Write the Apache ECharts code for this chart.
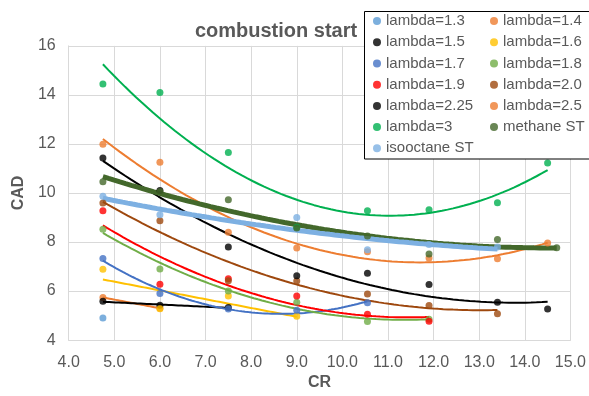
<!DOCTYPE html>
<html><head><meta charset="utf-8">
<script src="https://cdn.jsdelivr.net/npm/echarts@6/dist/echarts.min.js"></script>
<style>html,body{margin:0;padding:0;background:#fff}#c{width:589px;height:396px}</style>
</head><body><div id="c"></div>
<script>
// ---- data ----
const CR = [4.75, 6.0, 7.5, 9.0, 10.55, 11.9, 13.4, 14.5];
const CR_METHANE = [4.75, 6.0, 7.5, 9.0, 10.55, 11.9, 13.4, 14.7];
const lambda13 = [4.9, null, null, null, null, null, null, null];
const lambda14 = [5.74, 5.3, null, null, null, null, null, null];
const lambda15 = [5.58, 5.42, 5.33, null, null, null, null, null];
const lambda16 = [6.89, 5.28, 5.8, 4.97, null, null, null, null];
const lambda17 = [7.33, 5.9, 5.27, 5.22, 5.52, null, null, null];
const lambda18 = [8.52, 6.9, 6.0, 5.54, 4.76, 4.85, null, null];
const lambda19 = [9.28, 6.28, 6.5, 5.8, 5.05, 4.77, null, null];
const lambda20 = [9.59, 8.87, 6.42, 6.41, 5.88, 5.41, 5.07, null];
const lambda225 = [11.43, 10.1, 7.8, 6.62, 6.73, 6.27, 5.54, 5.27];
const lambda25 = [11.99, 11.25, 8.4, 7.76, 7.6, 7.35, 7.32, 7.96];
const lambda3 = [14.45, 14.1, 11.65, 8.6, 9.28, 9.32, 9.6, 11.22];
const methaneST = [10.46, 10.05, 9.72, 8.57, 8.25, 7.51, 8.1, 7.77];
const isooctaneST = [9.87, 9.11, null, 9.0, 7.69, 7.9, 7.8, null];

const seriesDefs = [
  {name:'lambda=1.3', x:CR, y:lambda13, color:'#5B9BD5', order:0, w:2},
  {name:'lambda=1.4', x:CR, y:lambda14, color:'#ED7D31', order:1, w:2},
  {name:'lambda=1.5', x:CR, y:lambda15, color:'#000000', order:1, w:2},
  {name:'lambda=1.6', x:CR, y:lambda16, color:'#FFC000', order:1, w:2},
  {name:'lambda=1.7', x:CR, y:lambda17, color:'#4472C4', order:2, w:2},
  {name:'lambda=1.8', x:CR, y:lambda18, color:'#70AD47', order:2, w:2},
  {name:'lambda=1.9', x:CR, y:lambda19, color:'#FF0000', order:2, w:2},
  {name:'lambda=2.0', x:CR, y:lambda20, color:'#9E480E', order:2, w:2},
  {name:'lambda=2.25', x:CR, y:lambda225, color:'#000000', order:2, w:2},
  {name:'lambda=2.5', x:CR, y:lambda25, color:'#ED7D31', order:2, w:2},
  {name:'lambda=3', x:CR, y:lambda3, color:'#00B050', order:2, w:2},
  {name:'methane ST', x:CR_METHANE, y:methaneST, color:'#43682B', order:2, w:5},
  {name:'isooctane ST', x:CR, y:isooctaneST, color:'#7DB0E2', order:2, w:5}
];

// least-squares polynomial trendline (like Excel)
function polyfit(xs, ys, order){
  const n = order + 1;
  const A = Array.from({length:n}, () => new Array(n+1).fill(0));
  for (let k=0;k<xs.length;k++){
    for (let i=0;i<n;i++){
      for (let j=0;j<n;j++) A[i][j] += Math.pow(xs[k], i+j);
      A[i][n] += ys[k]*Math.pow(xs[k], i);
    }
  }
  for (let i=0;i<n;i++){
    let p=i; for (let r=i+1;r<n;r++) if (Math.abs(A[r][i])>Math.abs(A[p][i])) p=r;
    [A[i],A[p]]=[A[p],A[i]];
    for (let r=0;r<n;r++){ if(r===i) continue; const f=A[r][i]/A[i][i]; for(let c=i;c<=n;c++) A[r][c]-=f*A[i][c]; }
  }
  return A.map((row,i)=>row[n]/row[i]);
}

const series = [];
seriesDefs.forEach(d => {
  const pts = [];
  d.x.forEach((xv,i)=>{ if (d.y[i]!==null) pts.push([xv, d.y[i]]); });
  if (d.order>0 && pts.length>1){
    const xs = pts.map(p=>p[0]), ys = pts.map(p=>p[1]);
    const c = polyfit(xs, ys, Math.min(d.order, pts.length-1));
    const x0 = Math.min(...xs), x1 = Math.max(...xs);
    const line = [];
    const N = 80;
    for (let i=0;i<=N;i++){
      const xv = x0 + (x1-x0)*i/N;
      let yv = 0; c.forEach((ci,k)=>{ yv += ci*Math.pow(xv,k); });
      line.push([xv, yv]);
    }
    series.push({type:'line', name:d.name+' trend', data:line, showSymbol:false, symbol:'none',
      lineStyle:{color:d.color, width:d.w}, itemStyle:{color:d.color}, silent:true, z:2});
  }
  series.push({type:'scatter', name:d.name, data:pts, symbol:'circle', symbolSize:7,
    itemStyle:{color:d.color}, z:3});
});

const legendText = {color:'#595959', fontSize:15, fontFamily:'Liberation Sans, Arial, sans-serif', lineHeight:21.2};
const chart = echarts.init(document.getElementById('c'));
chart.setOption({
  animation:false,
  backgroundColor:'#ffffff',
  title:{text:'combustion start', left:271, top:16, textAlign:'center',
    textStyle:{color:'#595959', fontSize:20, fontWeight:'bold', fontFamily:'Liberation Sans, Arial, sans-serif'}},
  grid:{left:68.7, right:16.2, top:45.9, bottom:53.7},
  xAxis:{type:'value', min:4, max:15, interval:1,
    name:'CR', nameLocation:'middle', nameGap:34,
    nameTextStyle:{color:'#595959', fontSize:16, fontWeight:'bold', fontFamily:'Liberation Sans, Arial, sans-serif'},
    axisLine:{lineStyle:{color:'#D9D9D9'}}, axisTick:{show:false},
    axisLabel:{color:'#595959', fontSize:16, margin:14, fontFamily:'Liberation Sans, Arial, sans-serif', formatter:v=>v.toFixed(1)},
    splitLine:{lineStyle:{color:'#D9D9D9'}}},
  yAxis:{type:'value', min:4, max:16, interval:2,
    name:'CAD', nameLocation:'middle', nameGap:38,
    nameTextStyle:{color:'#595959', fontSize:16, fontWeight:'bold', fontFamily:'Liberation Sans, Arial, sans-serif'},
    axisLine:{show:true, lineStyle:{color:'#D9D9D9'}}, axisTick:{show:false},
    axisLabel:{color:'#595959', fontSize:16, margin:13, fontFamily:'Liberation Sans, Arial, sans-serif'},
    splitLine:{lineStyle:{color:'#D9D9D9'}}},
  graphic:[{type:'rect', shape:{x:364.5, y:11.5, width:240, height:147.5}, z:50,
    style:{fill:'#ffffff', stroke:'#000000', lineWidth:1}}],
  legend:[
    {orient:'vertical', left:373, top:10.5, padding:0, itemGap:0, itemWidth:8, itemHeight:8, z:60,
      icon:'circle', textStyle:legendText,
      data:['lambda=1.3','lambda=1.5','lambda=1.7','lambda=1.9','lambda=2.25','lambda=3','isooctane ST']},
    {orient:'vertical', left:490, top:10.5, padding:0, itemGap:0, itemWidth:8, itemHeight:8, z:60,
      icon:'circle', textStyle:legendText,
      data:['lambda=1.4','lambda=1.6','lambda=1.8','lambda=2.0','lambda=2.5','methane ST']}
  ],
  series:series
});
</script></body></html>
